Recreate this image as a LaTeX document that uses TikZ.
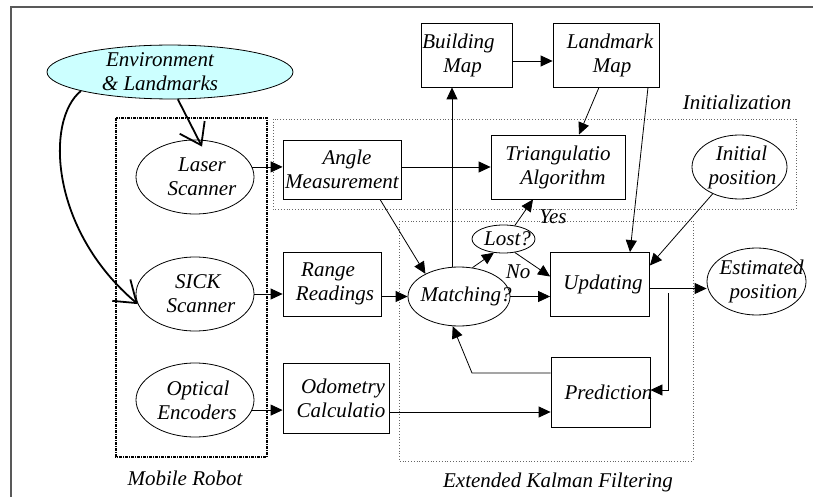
\documentclass[tikz,border=0pt]{standalone}
\usepackage{fontspec}
\setmainfont{Liberation Serif}
\usetikzlibrary{shapes.geometric,arrows.meta}
\definecolor{envcyan}{RGB}{204,255,255}
\newcommand{\zw}[2][0]{\makebox[0pt]{\kern#1pt\relax#2\kern-#1pt}}
\begin{document}
\begin{tikzpicture}[x=1pt,y=-1pt,
  every node/.style={font=\fontsize{21}{24}\selectfont\itshape, inner sep=0pt, align=center},
  box/.style={draw, line width=0.8pt, rectangle},
  ell/.style={draw, line width=0.8pt, ellipse},
  arr/.style={line width=0.8pt, -{Triangle[length=12pt,width=11pt]}},
  bigarr/.style={line width=1.8pt, -{Straight Barb[length=20pt,width=28pt]}},
  area/.style={draw=black!60, dotted, line width=0.8pt},
  robotarea/.style={draw=black, line width=1.5pt, dash pattern=on 3pt off 1pt on 1pt off 1pt},
  frame/.style={draw=black!65, line width=1.2pt}]
\useasboundingbox (0,0) rectangle (813,497);
\draw[frame] (11,497) -- (11,7) -- (813,7);
\draw[area] (273,119) rectangle (796,209);
\draw[area] (399,221) rectangle (693,461);
\draw[robotarea] (116,118) rectangle (267,457);

\node[ell, fill=envcyan, minimum width=246pt, minimum height=50pt] (env) at (170,72) {\zw[-10]{Environment}\\\zw[-10]{\& Landmarks}};
\node[ell, minimum width=118pt, minimum height=74pt] (laser) at (195,177) {\zw[7]{Laser}\\\zw[7]{Scanner}};
\node[ell, minimum width=118pt, minimum height=74pt] (sick) at (195,294) {\zw[3]{SICK}\\\zw[6]{Scanner}};
\node[ell, minimum width=118pt, minimum height=74pt] (optical) at (195,400) {\zw[3]{Optical}\\\zw[2]{Encoders}};
\node[box, minimum width=118pt, minimum height=59pt] (angle) at (342,169.5) {\zw[5]{Angle}\\\zw{Measurement}};
\node[box, minimum width=98pt, minimum height=64pt] (range) at (332,284) {\zw[-4]{Range}\\\zw[3]{Readings}};
\node[box, minimum width=106pt, minimum height=70pt] (odo) at (336,398) {\zw[7]{Odometry}\\\zw[5]{Calculatio}};
\node[box, minimum width=91pt, minimum height=64pt] (bmap) at (466.5,55) {\zw[-8]{Building}\\\zw[-4]{Map}};
\node[box, minimum width=106pt, minimum height=64pt] (lmap) at (606,55) {\zw[4]{Landmark}\\\zw[6]{Map}};
\node[box, minimum width=134pt, minimum height=64pt] (tri) at (558,167) {\zw{Triangulatio}\\\zw[5]{Algorithm}};
\node[ell, minimum width=95pt, minimum height=64pt] (init) at (739.5,167) {\zw[2]{Initial}\\\zw[3]{position}};
\node[ell, minimum width=63pt, minimum height=28pt] (lost) at (503.5,239) {\zw[4]{Lost?}};
\node[ell, minimum width=102pt, minimum height=59pt] (match) at (459,296.5) {\zw[7]{Matching?}};
\node[box, minimum width=99pt, minimum height=64pt] (upd) at (600,284.5) {\zw[3]{Updating}};
\node[box, minimum width=99pt, minimum height=70pt] (pred) at (600.5,392) {\zw[8]{Prediction}};
\node[ell, minimum width=99pt, minimum height=67pt] (est) at (756.5,281.5) {\zw[5]{Estimated}\\\zw[7]{position}};

\node (yes) at (553,217) {Yes};
\node (no) at (518,272) {No};
\node (initlbl) at (737,102) {Initialization};
\node (robotlbl) at (185,478) {Mobile Robot};
\node (ekflbl) at (558,482) {Extended Kalman Filtering};

\draw[bigarr] (env.286) -- ([xshift=7pt,yshift=-7pt]laser.north);
\draw[bigarr] (env.192) .. controls (45,120) and (50,230) .. (sick.190);
\draw[arr] (laser.10) -- (laser.10 -| angle.west);
\draw[arr] (sick.east) -- (sick.east -| range.west);
\draw[arr] (optical.-10) -- (optical.-10 -| odo.west);
\draw[arr] (angle.east |- tri.west) -- (tri.west);
\draw[arr] ([xshift=38pt]angle.south) -- (match.146);
\draw[arr] (range.east |- match.west) -- (match.west);
\draw[arr] (match.east) -- (match.east -| upd.west);
\draw[arr] (match.65) -- (lost.235);
\draw[arr] (lost.50) -- ([xshift=-25pt]tri.south);
\draw[arr] (lost.310) -- ([yshift=8pt]upd.west);
\draw[arr] ([xshift=-7pt]match.north) -- ([xshift=-7pt]match.north |- bmap.south);
\draw[arr] ([yshift=-6pt]bmap.east) -- ([yshift=-6pt]bmap.east -| lmap.west);
\draw[arr] ([xshift=-7pt]lmap.south) -- ([xshift=21pt]tri.north);
\draw[arr] ([xshift=42pt]lmap.south) -- ([xshift=30pt]upd.north);
\draw[arr] (init.225) -- ([yshift=19pt]upd.east);
\draw[arr] ([yshift=-4pt]upd.east) -- ([yshift=-4pt]upd.east -| est.west);
\coordinate (br) at (668,293);
\draw[arr] (br) |- ([yshift=2pt]pred.east);
\coordinate (pb) at (472,373);
\draw[arr] ([yshift=19pt]pred.west) -- (pb) -- (match.258);
\draw[arr] ([yshift=-14pt]odo.east) -- ([yshift=-14pt]odo.east -| pred.west);
\end{tikzpicture}
\end{document}
